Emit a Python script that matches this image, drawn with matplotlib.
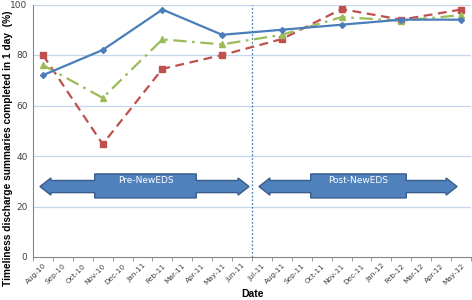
import matplotlib.pyplot as plt
import matplotlib.patches as mpatches
import numpy as np

months = ["Aug-10", "Sep-10", "Oct-10", "Nov-10", "Dec-10", "Jan-11", "Feb-11", "Mar-11",
          "Apr-11", "May-11", "Jun-11", "Jul-11", "Aug-11", "Sep-11", "Oct-11", "Nov-11",
          "Dec-11", "Jan-12", "Feb-12", "Mar-12", "Apr-12", "May-12"]
data_months = ["Aug-10", "Nov-10", "Feb-11", "May-11", "Aug-11", "Nov-11", "Feb-12", "May-12"]
blue_vals = [72, 82, 98, 88, 90, 92, 94, 94]
red_vals = [80, 44.7, 74.5, 80, 86.3, 98.2, 94, 98]
green_vals = [76, 63, 86.2, 84.2, 88, 95, 93.6, 95.8]

xs = np.array([months.index(m) for m in data_months])

fig = plt.figure(figsize=(4.72, 3.0), dpi=100)
ax = fig.add_axes([33/472, 43/300, 438/472, 252.5/300])

grid_c = "#c6d6ec"
for v in [20, 40, 60, 80, 100]:
    ax.axhline(v, color=grid_c, lw=0.9, zorder=0)

ax.plot(xs, blue_vals, color="#4a7ebb", lw=1.6, marker="D", ms=3, zorder=4)
ax.plot(xs, red_vals, color="#c0504d", lw=1.6, ls=(0, (4, 2.5)), marker="s", ms=4.5, zorder=3)
ax.plot(xs, green_vals, color="#9bbb59", lw=1.6, ls=(0, (6, 2.5, 1.2, 2.5)), marker="^", ms=4.5, zorder=3)

# divider between pre and post
ax.axvline(10.5, color="#4a7ebb", lw=0.9, ls=(0, (1.5, 1.5)), zorder=1)

def double_arrow(x0, x1, bx0, bx1, label):
    yc = 27.9
    shaft = 2.4
    head = 3.4
    hl = 0.55
    box_top, box_bot = 32.9, 23.4
    pts = [(x0, yc), (x0 + hl, yc + head), (x0 + hl, yc + shaft), (bx0, yc + shaft),
           (bx0, box_top), (bx1, box_top), (bx1, yc + shaft), (x1 - hl, yc + shaft),
           (x1 - hl, yc + head), (x1, yc), (x1 - hl, yc - head), (x1 - hl, yc - shaft),
           (bx1, yc - shaft), (bx1, box_bot), (bx0, box_bot), (bx0, yc - shaft),
           (x0 + hl, yc - shaft), (x0 + hl, yc - head)]
    poly = mpatches.Polygon(pts, closed=True, facecolor="#4f81bd", edgecolor="#385d8a",
                            lw=1.0, zorder=5)
    ax.add_patch(poly)
    ax.text((bx0 + bx1) / 2, 30.4, label, color="white", fontsize=6.5,
            ha="center", va="center", zorder=6)

double_arrow(-0.15, 10.35, 2.6, 7.7, "Pre-NewEDS")
double_arrow(10.85, 20.8, 13.45, 18.25, "Post-NewEDS")

ax.set_xlim(-0.5, 21.5)
ax.set_ylim(0, 100)
ax.set_yticks([0, 20, 40, 60, 80, 100])
ax.tick_params(axis="y", labelsize=6.5, colors="#404040", length=0, pad=4)

ax.set_xticks(np.arange(len(months)))
ax.set_xticklabels(months, rotation=45, ha="right", rotation_mode="anchor", fontsize=5.3,
                   color="#404040")
ax.set_xticks(np.arange(-0.5, len(months)), minor=True)
ax.tick_params(axis="x", which="major", length=0, pad=4)
ax.tick_params(axis="x", which="minor", length=3, color="#868686")

for s in ["top", "right"]:
    ax.spines[s].set_visible(False)
ax.spines["left"].set_color("#868686")
ax.spines["bottom"].set_color("#868686")
ax.spines["left"].set_linewidth(0.8)
ax.spines["bottom"].set_linewidth(0.8)

fig.text(8/472, 1 - 148/300, "Timeliness discharge summaries completed in 1 day  (%)",
         rotation=90, ha="center", va="center", fontsize=7.3, fontweight="bold",
         family="Liberation Sans")
fig.text(252/472, 1 - 294/300, "Date", ha="center", va="center", fontsize=7.5,
         fontweight="bold", family="Liberation Sans")

fig.savefig("out.png", dpi=100)
